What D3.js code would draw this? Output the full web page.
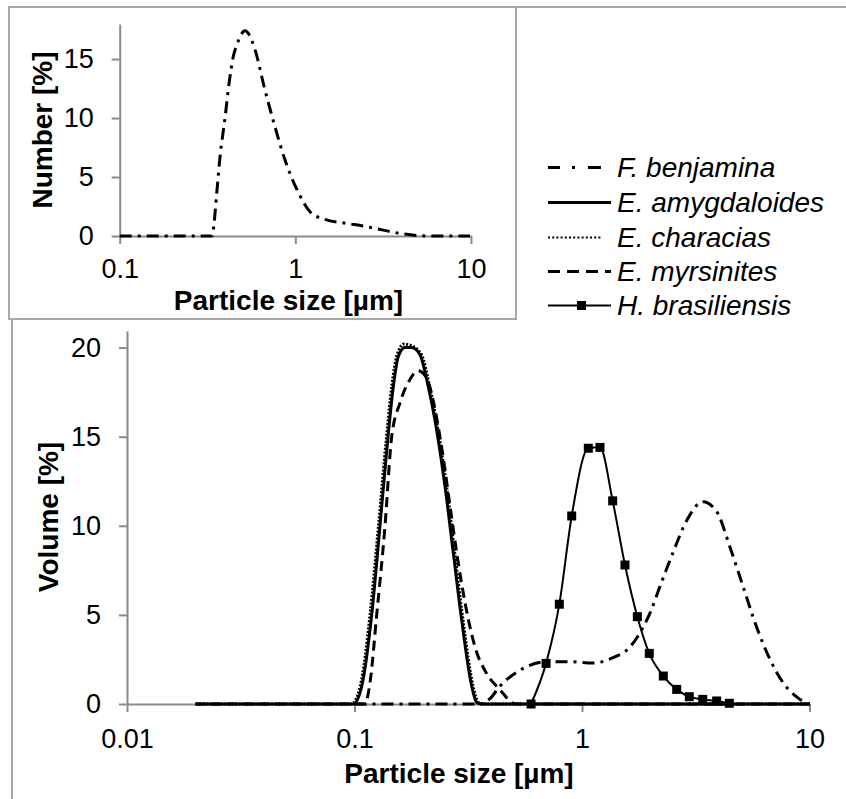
<!DOCTYPE html>
<html><head><meta charset="utf-8">
<script src="https://cdn.jsdelivr.net/npm/d3@7"></script>
<style>
body{margin:0;background:#fff}
svg text{font-family:"Liberation Sans",Arial,Helvetica,sans-serif;fill:#000}
</style>
</head><body>
<svg id="c" width="846" height="799"></svg>
<script>
// ---------- labels / ticks ----------
const seriesNames = ["F. benjamina","E. amygdaloides","E. characias","E. myrsinites","H. brasiliensis"];
const mainXTicks = [0.01,0.1,1,10];
const mainXTickLabels = ["0.01","0.1","1","10"];
const mainYTicks = [0,5,10,15,20];
const insetXTicks = [0.1,1,10];
const insetXTickLabels = ["0.1","1","10"];
const insetYTicks = [0,5,10,15];
const xTitle = "Particle size [µm]";
const mainYTitle = "Volume [%]";
const insetYTitle = "Number [%]";

// ---------- data: main (volume %) ----------
const fbVolSize = [0.1,0.2,0.3,0.36,0.394,0.436,0.534,0.70,0.886,1.118,1.369,1.626,1.798,1.99,2.202,2.512,2.886,3.403,3.909,4.473,5.103,5.861,6.707,7.649,8.785,9.72,10];
const fbVolPct  = [0,0,0,0,0.3,1.0,1.9,2.37,2.37,2.3,2.6,3.2,4.0,5.1,6.6,8.5,10.3,11.35,10.8,8.8,6.6,4.3,2.5,1.2,0.4,0.05,0];

const eaSize = [0.02,0.05,0.0988,0.1075,0.119,0.1294,0.1404,0.1481,0.1558,0.1667,0.178,0.194,0.211,0.226,0.250,0.272,0.296,0.3275,0.344,0.36,1,10];
const eaPct  = [0,0,0,0.97,5,10,15,17.8,19.5,20.0,20.0,19.6,17.8,15.9,12.2,8.45,4.7,1.0,0.1,0,0,0];

const ecSize = [0.02,0.05,0.097,0.106,0.117,0.1275,0.1383,0.146,0.154,0.165,0.178,0.197,0.214,0.229,0.254,0.276,0.300,0.332,0.35,0.37,1,10];
const ecPct  = [0,0,0,1.0,5,10,15,17.9,19.6,20.2,20.1,19.6,17.8,15.9,12.2,8.45,4.7,1.0,0.1,0,0,0];

const emSize = [0.02,0.05,0.1112,0.117,0.1252,0.1362,0.1457,0.1585,0.175,0.19,0.205,0.2417,0.263,0.2813,0.3059,0.3386,0.3813,0.436,0.4974,0.52,1,10];
const emPct  = [0,0,0,1.2,5,10,15,16.9,18.2,18.7,18.4,14.4,11.1,8.5,5.7,3.2,1.7,0.8,0.05,0,0,0];

const hbSize = [0.597,0.695,0.795,0.901,1.066,1.2,1.364,1.545,1.751,1.976,2.277,2.608,2.962,3.393,3.909,4.442];
const hbPct  = [0,2.28,5.6,10.55,14.35,14.4,11.4,7.8,4.9,2.84,1.57,0.82,0.41,0.26,0.17,0.04];

// ---------- data: inset (number %) ----------
const fbNumSize = [0.1,0.2,0.3,0.335,0.341,0.3566,0.3724,0.3977,0.4207,0.4432,0.467,0.5168,0.5893,0.6656,0.7558,0.8733,1.053,1.212,1.508,1.96,2.548,3.168,3.943,4.909,6.0,9.87];
const fbNumPct  = [0,0,0,0,0.5,3.6,6.7,10.0,13.1,15.2,16.3,17.4,15.8,12.6,9.55,6.44,3.53,2.06,1.36,1.07,0.79,0.5,0.22,0.05,0,0];

// ---------- drawing ----------
const svg = d3.select("#c");
const AX = "#8a8a8a", FR = "#a8a8a8";

// frames
svg.append("line").attr("x1",9).attr("x2",846).attr("y1",7).attr("y2",7).attr("stroke",FR).attr("stroke-width",2);
svg.append("rect").attr("x",9).attr("y",7).attr("width",507).attr("height",312).attr("fill","none").attr("stroke",FR).attr("stroke-width",2);
svg.append("line").attr("x1",12).attr("x2",12).attr("y1",320).attr("y2",799).attr("stroke",FR).attr("stroke-width",2);

function styleAxis(g){
  g.select(".domain").attr("stroke",AX).attr("stroke-width",2);
  g.selectAll(".tick line").attr("stroke",AX).attr("stroke-width",2);
  g.selectAll(".tick text").attr("font-size",27).attr("fill","#000");
}

// main chart scales
const x = d3.scaleLog().domain([0.01,10]).range([127,809.5]);
const y = d3.scaleLinear().domain([0,20.93]).range([704,331]);

svg.append("g").attr("transform","translate(0,704)")
  .call(d3.axisBottom(x).tickValues(mainXTicks).tickFormat((d,i)=>mainXTickLabels[i]).tickSize(8).tickSizeOuter(0).tickPadding(17))
  .call(styleAxis);
svg.append("g").attr("transform","translate(127,0)")
  .call(d3.axisLeft(y).tickValues(mainYTicks).tickFormat(d3.format("d")).tickSize(8).tickSizeOuter(0).tickPadding(18))
  .call(styleAxis);

const line = d3.line().x(d=>x(d[0])).y(d=>y(d[1])).curve(d3.curveMonotoneX);
const DASHDOT = "12,6,3,6", DASH = "10,6", DOT = "2,1.6";

svg.append("path").datum(d3.zip(fbVolSize,fbVolPct)).attr("d",line)
  .attr("fill","none").attr("stroke","#000").attr("stroke-width",3).attr("stroke-dasharray",DASHDOT);
svg.append("path").datum(d3.zip(eaSize,eaPct)).attr("d",line)
  .attr("fill","none").attr("stroke","#000").attr("stroke-width",3);
svg.append("path").datum(d3.zip(ecSize,ecPct)).attr("d",line)
  .attr("fill","none").attr("stroke","#000").attr("stroke-width",3).attr("stroke-dasharray",DOT);
svg.append("path").datum(d3.zip(emSize,emPct)).attr("d",line)
  .attr("fill","none").attr("stroke","#000").attr("stroke-width",3).attr("stroke-dasharray",DASH);
const hb = d3.zip(hbSize,hbPct);
svg.append("path").datum(hb).attr("d",line)
  .attr("fill","none").attr("stroke","#000").attr("stroke-width",2);
svg.append("g").selectAll("rect").data(hb).join("rect")
  .attr("x",d=>x(d[0])-4.5).attr("y",d=>y(d[1])-4.5).attr("width",9).attr("height",9).attr("fill","#000");

// main titles
svg.append("text").attr("x",459).attr("y",783).attr("text-anchor","middle")
  .attr("font-size",28).attr("font-weight","bold").text(xTitle);
svg.append("text").attr("transform","translate(58,517) rotate(-90)").attr("text-anchor","middle")
  .attr("font-size",28).attr("font-weight","bold").text(mainYTitle);

// inset chart
const xi = d3.scaleLog().domain([0.1,10]).range([119.7,471]);
const yi = d3.scaleLinear().domain([0,17.97]).range([236,24]);
svg.append("g").attr("transform","translate(0,236)")
  .call(d3.axisBottom(xi).tickValues(insetXTicks).tickFormat((d,i)=>insetXTickLabels[i]).tickSize(8).tickSizeOuter(0).tickPadding(15))
  .call(styleAxis);
svg.append("g").attr("transform","translate(119.7,0)")
  .call(d3.axisLeft(yi).tickValues(insetYTicks).tickFormat(d3.format("d")).tickSize(8).tickSizeOuter(0).tickPadding(18))
  .call(styleAxis);
const linei = d3.line().x(d=>xi(d[0])).y(d=>yi(d[1])).curve(d3.curveMonotoneX);
svg.append("path").datum(d3.zip(fbNumSize,fbNumPct)).attr("d",linei)
  .attr("fill","none").attr("stroke","#000").attr("stroke-width",3).attr("stroke-dasharray",DASHDOT);
svg.append("text").attr("x",288.5).attr("y",310).attr("text-anchor","middle")
  .attr("font-size",28).attr("font-weight","bold").text(xTitle);
svg.append("text").attr("transform","translate(52,130) rotate(-90)").attr("text-anchor","middle")
  .attr("font-size",28).attr("font-weight","bold").text(insetYTitle);

// legend
const legBase = [177,212,247,281,315];
const lg = svg.append("g");
seriesNames.forEach((name,i)=>{
  const by = legBase[i], ly = by-9.5;
  lg.append("text").attr("x",617).attr("y",by).attr("font-size",28).attr("font-style","italic").text(name);
  const l = lg.append("line").attr("y1",ly).attr("y2",ly).attr("x1",548).attr("stroke","#000");
  if(i===0){ l.attr("x2",601).attr("stroke-width",3).attr("stroke-dasharray","12,12,3,13,13"); }
  if(i===1){ l.attr("x2",611).attr("stroke-width",3); }
  if(i===2){ l.attr("x2",602).attr("stroke-width",2).attr("stroke-dasharray","2,2.2"); }
  if(i===3){ l.attr("x2",611).attr("stroke-width",3).attr("stroke-dasharray","12,7"); }
  if(i===4){ l.attr("x2",611).attr("stroke-width",2);
    lg.append("rect").attr("x",577).attr("y",ly-4.5).attr("width",9).attr("height",9).attr("fill","#000"); }
});
</script>
</body></html>
